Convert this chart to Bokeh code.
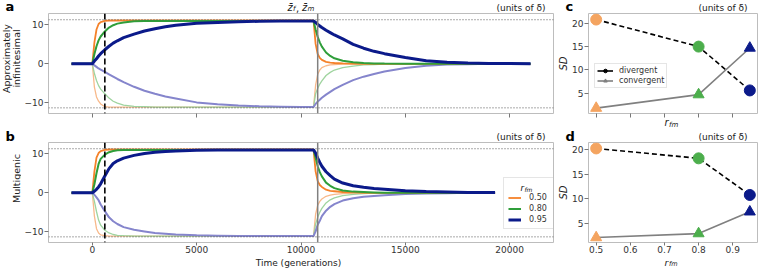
from math import pi
from bokeh.plotting import figure
from bokeh.models import Range1d, FixedTicker, Span, Label, Legend, LegendItem
from bokeh.layouts import row, column
from bokeh.embed import file_html
from bokeh.resources import INLINE

FONT = "DejaVu Sans"

# ---------------- data: time series (panels a, b) ----------------
T_A = [-1000, 0, 100, 200, 300, 400, 600, 800, 1000, 1200, 1500, 2000, 2500, 3000, 3500, 4000,
       5000, 6000, 7000, 8000, 9000, 10000,
       10600, 10700, 10800, 10900, 11000, 11200, 11400, 11600, 12000, 12500, 13000, 13500, 14000,
       15000, 16000, 17000, 18000, 19000, 20000, 21000]
T_B = [-1000, 0, 100, 200, 300, 400, 600, 800, 1000, 1200, 1500, 2000, 2500, 3000, 3500, 4000,
       5000, 6000, 7000, 8000, 9000, 10000,
       10600, 10700, 10800, 10900, 11000, 11200, 11400, 11600, 12000, 12500, 13000, 13500, 14000,
       15000, 16000, 17000, 18000, 19000, 19300]

# panel a (approximately infinitesimal); "up" = upper branch, "lo" = lower branch
A_OR_UP = [0, 0, 5.5, 8.8, 10.2, 10.7, 11.0, 11.1, 11.1, 11.1, 11.1, 11.1, 11.1, 11.1, 11.1, 11.1,
           11.1, 11.1, 11.1, 11.1, 11.1, 11.1,
           11.1, 5.1, 2.5, 1.5, 1.0, 0.5, 0.3, 0.2, 0.1, 0.05, 0, 0, 0,
           0, 0, 0, 0, 0, 0, 0]
A_GR_UP = [0, 0, 2.5, 4.5, 6.0, 7.0, 8.3, 9.3, 9.9, 10.3, 10.6, 10.9, 11.0, 11.0, 11.0, 11.0,
           11.0, 11.0, 11.0, 11.0, 11.0, 11.0,
           11.0, 8.8, 6.9, 5.5, 4.4, 2.9, 2.0, 1.4, 0.8, 0.4, 0.2, 0.1, 0.05,
           0, 0, 0, 0, 0, 0, 0]
A_NV_UP = [0, 0, 0.7, 1.3, 2.0, 2.6, 3.6, 4.5, 5.3, 5.9, 6.7, 7.6, 8.4, 9.0, 9.5, 9.9,
           10.4, 10.6, 10.8, 10.9, 11.0, 11.0,
           11.0, 10.6, 10.1, 9.7, 9.3, 8.6, 8.0, 7.4, 6.4, 5.0, 4.0, 3.2, 2.6,
           1.6, 0.8, 0.4, 0.2, 0.1, 0.05, 0]
A_OR_LO = [0, 0, -6.0, -8.5, -9.6, -10.3, -11.0, -11.1, -11.1, -11.1, -11.1, -11.1, -11.1, -11.1, -11.1, -11.1,
           -11.1, -11.1, -11.1, -11.1, -11.1, -11.1,
           -11.1, -5.5, -2.7, -1.6, -1.0, -0.5, -0.3, -0.2, -0.1, -0.05, 0, 0, 0,
           0, 0, 0, 0, 0, 0, 0]
A_GR_LO = [0, 0, -2.5, -4.3, -5.6, -6.5, -7.7, -8.8, -9.6, -10.1, -10.6, -10.9, -11.0, -11.1, -11.1, -11.1,
           -11.1, -11.1, -11.1, -11.1, -11.1, -11.1,
           -11.1, -7.7, -6.3, -5.2, -4.4, -3.0, -2.2, -1.6, -1.0, -0.6, -0.3, -0.2, -0.1,
           0, 0, 0, 0, 0, 0, 0]
A_NV_LO = [0, 0, -0.4, -0.8, -1.2, -1.5, -2.1, -2.7, -3.3, -3.9, -4.7, -5.9, -6.9, -7.7, -8.4, -8.9,
           -9.9, -10.4, -10.7, -10.9, -11.0, -11.1,
           -11.1, -10.3, -9.7, -9.2, -8.7, -7.9, -7.2, -6.5, -5.4, -4.2, -3.3, -2.6, -2.0,
           -1.1, -0.5, -0.2, -0.1, 0, 0, 0]

# panel b (multigenic)
B_OR_UP = [0, 0, 5.5, 9.0, 10.2, 10.7, 11.0, 11.1, 11.1, 11.1, 11.1, 11.1, 11.1, 11.1, 11.1, 11.1,
           11.1, 11.1, 11.1, 11.1, 11.1, 11.1,
           11.1, 5.5, 3.0, 2.0, 1.5, 0.8, 0.5, 0.4, 0.2, 0.1, 0, 0, 0,
           0, 0, 0, 0, 0, 0]
B_GR_UP = [0, 0, 2.2, 5.0, 7.4, 8.7, 9.8, 10.4, 10.7, 10.9, 11.0, 11.0, 11.0, 11.0, 11.0, 11.0,
           11.0, 11.0, 11.0, 11.0, 11.0, 11.0,
           11.0, 9.0, 6.8, 5.3, 4.2, 2.6, 1.8, 1.2, 0.6, 0.3, 0.2, 0.1, 0,
           0, 0, 0, 0, 0, 0]
B_NV_UP = [0, 0, 0.4, 0.9, 1.5, 2.3, 4.3, 6.2, 7.5, 8.2, 8.9, 9.6, 10.1, 10.4, 10.6, 10.7,
           10.9, 11.0, 11.0, 11.0, 11.0, 11.0,
           11.0, 10.2, 8.9, 7.8, 6.8, 5.4, 4.4, 3.5, 2.5, 1.8, 1.4, 1.1, 0.9,
           0.5, 0.3, 0.2, 0.1, 0.1, 0.1]
B_OR_LO = [0, 0, -6.0, -9.2, -10.3, -10.8, -11.0, -11.1, -11.1, -11.1, -11.1, -11.1, -11.1, -11.1, -11.1, -11.1,
           -11.1, -11.1, -11.1, -11.1, -11.1, -11.1,
           -11.1, -5.5, -3.2, -2.2, -1.6, -0.9, -0.6, -0.4, -0.2, -0.1, 0, 0, 0,
           0, 0, 0, 0, 0, 0]
B_GR_LO = [0, 0, -2.2, -4.8, -7.0, -8.3, -9.6, -10.3, -10.7, -10.9, -11.0, -11.1, -11.1, -11.1, -11.1, -11.1,
           -11.1, -11.1, -11.1, -11.1, -11.1, -11.1,
           -11.1, -8.0, -6.3, -5.0, -4.0, -2.6, -1.8, -1.3, -0.7, -0.4, -0.2, -0.1, 0,
           0, 0, 0, 0, 0, 0]
B_NV_LO = [0, 0, -0.5, -1.2, -1.9, -3.0, -4.7, -6.3, -7.3, -8.0, -8.8, -9.5, -9.9, -10.3, -10.5, -10.7,
           -10.9, -11.0, -11.1, -11.1, -11.1, -11.1,
           -11.1, -9.9, -8.2, -7.2, -6.0, -4.6, -3.6, -2.9, -2.0, -1.4, -1.0, -0.8, -0.6,
           -0.3, -0.2, -0.1, 0, 0, 0]

OPTIMUM = 11.3          # dotted reference lines (+/-)
T_DASHED = 600          # dashed vertical line
T_SOLID = 10800         # grey vertical line

# ---------------- data: SD summaries (panels c, d) ----------------
R_FM = [0.5, 0.8, 0.95]
R_LABELS = ["0.50", "0.80", "0.95"]
C_DIV = [20.8, 15.0, 5.6]
C_CONV = [1.8, 4.7, 14.7]
D_DIV = [20.2, 18.2, 10.8]
D_CONV = [2.2, 3.0, 7.4]

X_TICKS_T = [0, 5000, 10000, 15000, 20000]
Y_TICKS_T = [-10, 0, 10]
X_TICKS_R = [0.5, 0.6, 0.7, 0.8, 0.9]
Y_TICKS_SD = [5, 10, 15, 20]

# ---------------- colours ----------------
C_OR, C_GR, C_NV = "#f5822a", "#2f9e3a", "#0b1a8a"
C_OR_L, C_GR_L, C_NV_L = "#f8b98a", "#9fd49f", "#8585cc"
M_COLS = ["#f4a460", "#4cae4c", "#0b1a8a"]


def style(p, xt, yt, hide_x=False):
    p.outline_line_color = "#bdbdbd"
    p.outline_line_width = 1
    p.xgrid.visible = False
    p.ygrid.visible = False
    for ax in (p.xaxis, p.yaxis):
        ax.axis_line_color = None
        ax.major_tick_line_color = "#777777"
        ax.major_tick_out = 4
        ax.major_tick_in = 0
        ax.minor_tick_line_color = None
        ax.major_label_text_font = FONT
        ax.major_label_text_font_size = "9px"
        ax.major_label_text_color = "#333333"
        ax.major_label_standoff = 1
    p.xaxis.ticker = FixedTicker(ticks=xt)
    p.yaxis.ticker = FixedTicker(ticks=yt)
    if hide_x:
        p.xaxis.major_label_overrides = {t: "" for t in xt}
        p.xaxis.major_label_text_font_size = "0px"
        p.xaxis.major_label_standoff = 0
    else:
        p.xaxis.major_tick_out = 3
        p.xaxis.major_label_standoff = 0


def lab(p, x, y, text, size="9px", fstyle="normal", align="left", baseline="middle",
        angle=0.0, color="#222222", level="annotation"):
    p.add_layout(Label(x=x, y=y, x_units="screen", y_units="screen", text=text, text_font=FONT,
                       text_font_size=size, text_font_style=fstyle, text_align=align,
                       text_baseline=baseline, angle=angle, text_color=color, level=level))


def strip(w, h):
    s = figure(width=w, height=h, x_range=Range1d(0, w), y_range=Range1d(0, h),
               output_backend="svg", toolbar_location=None,
               x_axis_location=None, y_axis_location=None,
               min_border=0, min_border_left=0, min_border_right=0,
               min_border_top=0, min_border_bottom=0)
    s.outline_line_color = None
    s.xgrid.visible = False
    s.ygrid.visible = False
    return s


def ts_panel(height, bb, T, curves, hide_x):
    p = figure(width=534, height=height, x_range=Range1d(-2100, 22100), y_range=Range1d(-12.75, 12.9),
               output_backend="svg", toolbar_location=None,
               min_border_left=24, min_border_right=2, min_border_top=0, min_border_bottom=bb)
    style(p, X_TICKS_T, Y_TICKS_T, hide_x)
    p.yaxis.major_label_overrides = {-10: "\u221210"}
    for yv in (OPTIMUM, -OPTIMUM):
        p.add_layout(Span(location=yv, dimension="width", line_color="#555555",
                          line_dash="1 2", line_width=1))
    (or_up, gr_up, nv_up, or_lo, gr_lo, nv_lo) = curves
    p.line(T, or_lo, line_color=C_OR_L, line_width=1.3)
    p.line(T, gr_lo, line_color=C_GR_L, line_width=1.3)
    p.line(T, nv_lo, line_color=C_NV_L, line_width=2)
    r1 = p.line(T, or_up, line_color=C_OR, line_width=1.8)
    r2 = p.line(T, gr_up, line_color=C_GR, line_width=2)
    r3 = p.line(T, nv_up, line_color=C_NV, line_width=3)
    p.add_layout(Span(location=T_DASHED, dimension="height", line_color="black",
                      line_dash="6 3", line_width=1.6))
    p.add_layout(Span(location=T_SOLID, dimension="height", line_color="#808080",
                      line_width=1.5))
    return p, (r1, r2, r3)


def sd_panel(height, bb, yr, div, conv, hide_x, legend):
    p = figure(width=203, height=height, x_range=Range1d(0.4775, 0.9725), y_range=Range1d(*yr),
               output_backend="svg", toolbar_location=None,
               min_border_left=32, min_border_right=1, min_border_top=0, min_border_bottom=bb)
    style(p, X_TICKS_R, Y_TICKS_SD, hide_x)
    p.yaxis.axis_label = "SD"
    p.yaxis.axis_label_text_font = FONT
    p.yaxis.axis_label_text_font_size = "10px"
    p.yaxis.axis_label_text_font_style = "italic"
    p.yaxis.axis_label_text_color = "#222222"
    p.yaxis.axis_label_standoff = 0
    p.line(R_FM, div, line_color="black", line_dash="5 3", line_width=1.6)
    p.line(R_FM, conv, line_color="#808080", line_width=1.6)
    p.scatter(R_FM, div, marker="circle", size=11, color=M_COLS)
    p.scatter(R_FM, conv, marker="triangle", size=11, color=M_COLS)
    if legend:
        d1 = p.line(x=[0, 0.1], y=[-50, -50], line_color="black", line_width=1.6)
        d2 = p.scatter(x=[0], y=[-50], marker="circle", size=7, color="black")
        c1 = p.line(x=[0, 0.1], y=[-50, -50], line_color="#808080", line_width=1.6)
        c2 = p.scatter(x=[0], y=[-50], marker="triangle", size=7, color="#808080")
        lg = Legend(items=[LegendItem(label="divergent", renderers=[d1, d2]),
                           LegendItem(label="convergent", renderers=[c1, c2])],
                    location=(6, 25), label_text_font=FONT, label_text_font_size="8px",
                    label_text_color="#333333", glyph_width=16, glyph_height=9, label_height=9,
                    spacing=1, padding=2, label_standoff=6, margin=0,
                    border_line_color="#cccccc", background_fill_alpha=0.85)
        p.add_layout(lg)
    return p


# ---------------- top text strip (window y 0..13) ----------------
s1 = strip(758, 13)
lab(s1, 5, 7, "a", size="13px", fstyle="bold", color="black")
lab(s1, 545, 5.5, "(units of \u03b4)", align="right")
lab(s1, 287, 6.5, "z\u0304", size="10px", fstyle="italic")
lab(s1, 292.5, 4.5, "f", size="7px", fstyle="italic")
lab(s1, 295.5, 6, ",", size="10px")
lab(s1, 301.5, 6.5, "z\u0304", size="10px", fstyle="italic")
lab(s1, 307, 4.5, "m", size="7px", fstyle="italic")
lab(s1, 565, 7, "c", size="13px", fstyle="bold", color="black")
lab(s1, 747, 5.5, "(units of \u03b4)", align="right")

# ---------------- row 1: panels a, c (window y 13..118) ----------------
ya = strip(21, 105)
lab(ya, 6, 55, "Approximately", size="9.5px", align="center", angle=pi / 2)
lab(ya, 16, 55, "infinitesimal", size="9.5px", align="center", angle=pi / 2)
pa, _ = ts_panel(105, 5, T_A, (A_OR_UP, A_GR_UP, A_NV_UP, A_OR_LO, A_GR_LO, A_NV_LO), True)
pc = sd_panel(105, 5, (0.65, 22.1), C_DIV, C_CONV, True, True)

# ---------------- middle text strip (window y 118..142) ----------------
s2 = strip(758, 24)
lab(s2, 664, 20.5, "r", size="10px", fstyle="italic")
lab(s2, 668.5, 17.5, "fm", size="7px", fstyle="italic")
lab(s2, 5, 6.5, "b", size="13px", fstyle="bold", color="black")
lab(s2, 545, 5.5, "(units of \u03b4)", align="right")
lab(s2, 565, 6.5, "d", size="13px", fstyle="bold", color="black")
lab(s2, 747, 5.5, "(units of \u03b4)", align="right")

# ---------------- row 2: panels b, d (window y 142..256) ----------------
yb = strip(21, 114)
lab(yb, 16, 64, "Multigenic", size="9.5px", align="center", angle=pi / 2)
pb, rb = ts_panel(114, 14, T_B, (B_OR_UP, B_GR_UP, B_NV_UP, B_OR_LO, B_GR_LO, B_NV_LO), False)
leg_b = Legend(items=[LegendItem(label=l, renderers=[r]) for l, r in zip(R_LABELS, rb)],
               location=(455, 13), title=" ", title_text_font_size="8px", title_standoff=2,
               label_text_font=FONT, label_text_font_size="8px", label_text_color="#333333",
               glyph_width=13, glyph_height=9, label_height=9, spacing=2, padding=4,
               label_standoff=8, margin=0, border_line_color="#cccccc",
               background_fill_alpha=0.0)
pb.add_layout(leg_b)
lab(pb, 472, 55, "r", size="8.5px", fstyle="italic", level="overlay", color="#111111")
lab(pb, 476, 53, "fm", size="6px", fstyle="italic", level="overlay", color="#111111")
pd = sd_panel(114, 14, (1.2, 21.4), D_DIV, D_CONV, False, False)

# ---------------- bottom text strip (window y 256..268) ----------------
s3 = strip(758, 12)
lab(s3, 298, 6, "Time (generations)", size="9px", align="center")
lab(s3, 664, 6.5, "r", size="9.5px", fstyle="italic")
lab(s3, 668.5, 4.5, "fm", size="6.5px", fstyle="italic")

layout = column(s1, row(ya, pa, pc), s2, row(yb, pb, pd), s3)
open("out.html", "w").write(file_html(layout, INLINE))
